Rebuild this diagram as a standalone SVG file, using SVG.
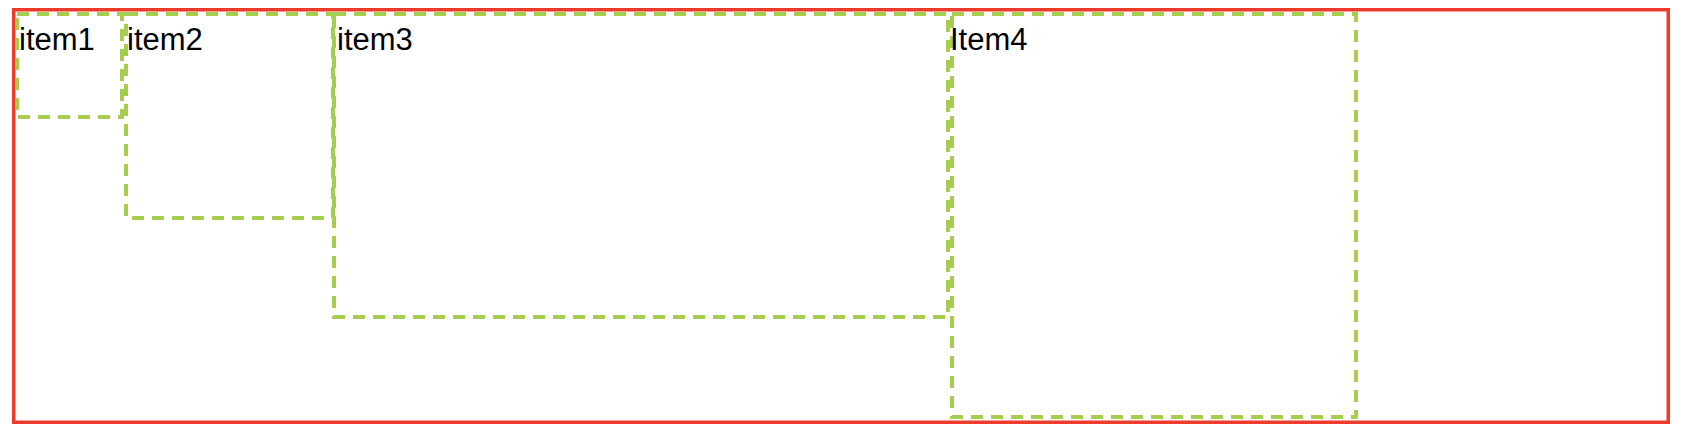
<svg xmlns="http://www.w3.org/2000/svg" width="1686" height="444" viewBox="0 0 1686 444">
<style>
.box{fill:none;stroke:#a6ce4e;stroke-width:4;stroke-dasharray:12 8}
.frame{fill:none;stroke:#ec3a2b;stroke-width:3.5}
.lbl{font-family:"Liberation Sans",Arial,sans-serif;font-size:31px;fill:#000}
</style>
<rect width="1686" height="444" fill="#fff"/>
<g id="container">
<rect class="frame" x="13.75" y="9.75" width="1654.5" height="412.5"/>
</g>
<g id="item1">
<rect class="box" x="17" y="14" width="105" height="103"/>
<text class="lbl" x="19" y="49.5">item1</text>
</g>
<g id="item2">
<rect class="box" x="126" y="14" width="207" height="204"/>
<text class="lbl" x="127" y="49.5">item2</text>
</g>
<g id="item3">
<rect class="box" x="334" y="14" width="614" height="303"/>
<text class="lbl" x="337" y="49.5">item3</text>
</g>
<g id="item4">
<rect class="box" x="952" y="14" width="404" height="403"/>
<text class="lbl" x="950" y="49.5">Item4</text>
</g>
<g id="connectors"></g>
</svg>
